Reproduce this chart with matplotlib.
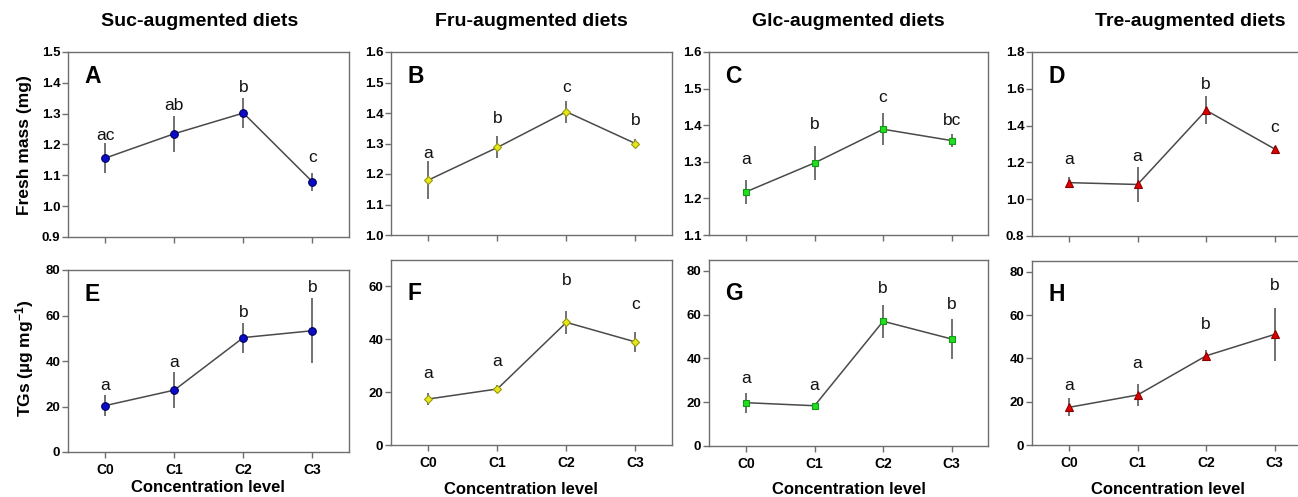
import matplotlib
matplotlib.use("Agg")
import matplotlib.pyplot as plt
import numpy as np

plt.rcParams['font.family'] = ['Liberation Sans', 'DejaVu Sans']
plt.rcParams['mathtext.fontset'] = 'custom'
plt.rcParams['mathtext.rm'] = 'Liberation Sans:bold'
plt.rcParams['mathtext.bf'] = 'Liberation Sans:bold'
plt.rcParams['mathtext.default'] = 'bf'

# ---- data -------------------------------------------------------------
levels = ['C0', 'C1', 'C2', 'C3']
diet_titles = ['Suc-augmented diets', 'Fru-augmented diets',
               'Glc-augmented diets', 'Tre-augmented diets']
panel_letters = ['A', 'B', 'C', 'D', 'E', 'F', 'G', 'H']

# fresh mass (mg), mean and error
suc_mass = [1.156, 1.235, 1.302, 1.079]
suc_mass_err = [0.050, 0.058, 0.050, 0.030]
fru_mass = [1.180, 1.287, 1.404, 1.300]
fru_mass_err = [0.063, 0.036, 0.036, 0.016]
glc_mass = [1.218, 1.297, 1.389, 1.358]
glc_mass_err = [0.033, 0.046, 0.043, 0.018]
tre_mass = [1.090, 1.080, 1.483, 1.273]
tre_mass_err = [0.030, 0.097, 0.077, 0.018]

# triglycerides (ug per mg), mean and error
suc_tg = [20.4, 27.2, 50.3, 53.3]
suc_tg_err = [4.7, 8.0, 6.6, 14.3]
fru_tg = [17.4, 21.2, 46.4, 39.0]
fru_tg_err = [2.4, 1.6, 4.4, 3.8]
glc_tg = [19.8, 18.4, 57.0, 48.9]
glc_tg_err = [4.6, 1.2, 7.6, 9.0]
tre_tg = [17.4, 23.1, 41.2, 51.1]
tre_tg_err = [4.1, 5.2, 2.5, 12.2]

# significance groups
suc_mass_sig = ['ac', 'ab', 'b', 'c']
fru_mass_sig = ['a', 'b', 'c', 'b']
glc_mass_sig = ['a', 'b', 'c', 'bc']
tre_mass_sig = ['a', 'a', 'b', 'c']
suc_tg_sig = ['a', 'a', 'b', 'b']
fru_tg_sig = ['a', 'a', 'b', 'c']
glc_tg_sig = ['a', 'a', 'b', 'b']
tre_tg_sig = ['a', 'a', 'b', 'b']

# baseline heights of the significance letters (data units)
suc_mass_sig_y = [1.214, 1.311, 1.370, 1.143]
fru_mass_sig_y = [1.251, 1.368, 1.469, 1.360]
glc_mass_sig_y = [1.293, 1.389, 1.464, 1.401]
tre_mass_sig_y = [1.193, 1.208, 1.601, 1.365]
suc_tg_sig_y = [27.2, 37.4, 59.5, 70.5]
fru_tg_sig_y = [25.4, 29.9, 60.4, 51.5]
glc_tg_sig_y = [28.7, 25.6, 70.0, 62.4]
tre_tg_sig_y = [25.4, 35.8, 53.8, 71.5]

# ---- layout (pixels) ---------------------------------------------------
W, H = 1298, 497
fig = plt.figure(figsize=(W / 100, H / 100), dpi=100)

def px_axes(left, right, top, bottom):
    return fig.add_axes([left / W, 1 - bottom / H, (right - left) / W, (bottom - top) / H])

boxes_top = [(68, 349, 52, 237), (391, 672, 52, 235), (709, 988, 52, 235), (1032, 1311, 52, 236)]
boxes_bot = [(68, 349, 270, 452), (391, 672, 260, 445), (709, 988, 260, 446), (1032, 1311, 261, 445)]

styles = [
    dict(marker='o', ms=5.5, mfc='#0b0bc8', mec='#00005a'),
    dict(marker='D', ms=4.5, mfc='#e6e61a', mec='#9a9a10'),
    dict(marker='s', ms=5.0, mfc='#22dd22', mec='#169a16'),
    dict(marker='^', ms=6.0, mfc='#e00000', mec='#8a0000'),
]

mass_sets = [(suc_mass, suc_mass_err, suc_mass_sig, suc_mass_sig_y),
             (fru_mass, fru_mass_err, fru_mass_sig, fru_mass_sig_y),
             (glc_mass, glc_mass_err, glc_mass_sig, glc_mass_sig_y),
             (tre_mass, tre_mass_err, tre_mass_sig, tre_mass_sig_y)]
tg_sets = [(suc_tg, suc_tg_err, suc_tg_sig, suc_tg_sig_y),
           (fru_tg, fru_tg_err, fru_tg_sig, fru_tg_sig_y),
           (glc_tg, glc_tg_err, glc_tg_sig, glc_tg_sig_y),
           (tre_tg, tre_tg_err, tre_tg_sig, tre_tg_sig_y)]

mass_limits = [(0.9, 1.5, 0.1), (1.0, 1.6, 0.1), (1.1, 1.6, 0.1), (0.8, 1.8, 0.2)]
tg_limits = [(0, 80, 20, 80), (0, 70, 20, 60), (0, 85, 20, 80), (0, 85, 20, 80)]

spine_col = '#6e6e6e'
line_col = '#4a4a4a'
tick_fs = 9.5
x = np.arange(len(levels))


def draw(ax, vals, errs, sig, sig_y, style, letter, letter_off):
    ax.errorbar(x, vals, yerr=errs, fmt='none', ecolor=line_col, elinewidth=1.1,
                capsize=0, zorder=2)
    ax.plot(x, vals, '-', color=line_col, lw=1.1, zorder=3)
    ax.plot(x, vals, ls='none', mew=0.8, zorder=4, **style)
    for xi, s, sy in zip(x, sig, sig_y):
        ax.text(xi, sy, s, ha='center', va='baseline', fontsize=12.5, color='#111111')
    ax.text(letter_off[0], letter_off[1], letter, transform=ax.transAxes,
            ha='left', va='top', fontsize=16.5, fontweight='bold')
    ax.set_xlim(-0.54, 3.53)
    ax.set_xticks(x)
    for sp in ax.spines.values():
        sp.set_color(spine_col)
        sp.set_linewidth(1.0)
    ax.tick_params(axis='both', direction='out', length=4, width=1.0, color=spine_col,
                   labelsize=tick_fs, pad=1.5)


for i in range(4):
    l, r, t, b = boxes_top[i]
    ax = px_axes(l, r, t, b)
    vals, errs, sig, sig_y = mass_sets[i]
    draw(ax, vals, errs, sig, sig_y, styles[i], panel_letters[i], (0.058, 0.93))
    lo, hi, step = mass_limits[i]
    ax.set_ylim(lo, hi)
    ticks = np.arange(lo, hi + step / 2, step)
    ax.set_yticks(ticks)
    ax.set_yticklabels([f'{v:.1f}' for v in ticks], fontweight='bold', fontsize=tick_fs)
    ax.set_xticklabels([])

    l, r, t, b = boxes_bot[i]
    ax = px_axes(l, r, t, b)
    vals, errs, sig, sig_y = tg_sets[i]
    off = (0.058, 0.93) if i == 0 else (0.058, 0.88)
    draw(ax, vals, errs, sig, sig_y, styles[i], panel_letters[i + 4], off)
    lo, hi, step, top_tick = tg_limits[i]
    ax.set_ylim(lo, hi)
    ticks = np.arange(lo, top_tick + 1, step)
    ax.set_yticks(ticks)
    ax.set_yticklabels([f'{int(v)}' for v in ticks], fontweight='bold', fontsize=tick_fs)
    ax.set_xticklabels(levels, fontweight='bold', fontsize=10)
    ax.tick_params(axis='x', pad=4)

# column titles
title_x = [200, 531, 848, 1190]
for tx, tt in zip(title_x, diet_titles):
    fig.text(tx / W, 1 - 21 / H, tt, ha='center', va='center', fontsize=14, fontweight='bold')

# axis labels
fig.text(25 / W, 1 - 145 / H, 'Fresh mass (mg)', rotation=90, ha='center', va='center',
         fontsize=12.5, fontweight='bold')
fig.text(25 / W, 1 - 358 / H, 'TGs (µg mg$^{-1}$)', rotation=90, ha='center', va='center',
         fontsize=12.5, fontweight='bold')
xlabel_pos = [(208, 487), (521, 490), (849, 490), (1168, 490)]
for px, py in xlabel_pos:
    fig.text(px / W, 1 - py / H, 'Concentration level', ha='center', va='center',
             fontsize=12, fontweight='bold')

fig.savefig('out.png', dpi=100)
